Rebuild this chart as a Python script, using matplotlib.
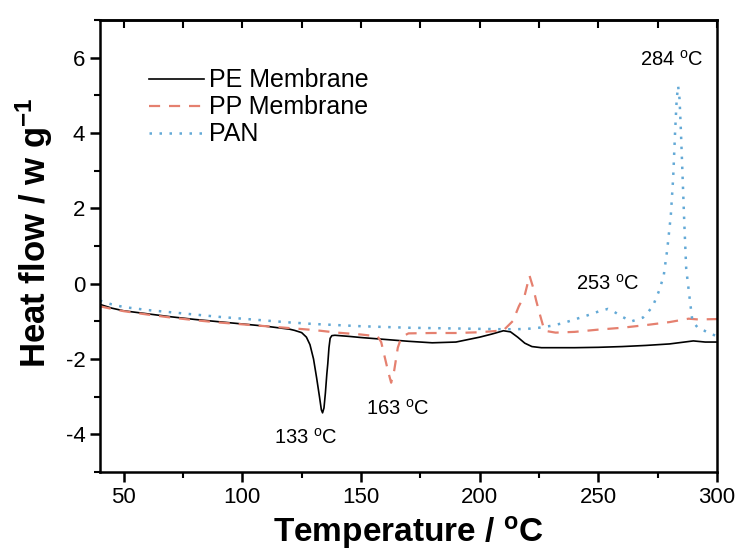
import matplotlib
matplotlib.use("Agg")
import matplotlib.pyplot as plt
from matplotlib.ticker import MultipleLocator

plt.rcParams["font.family"] = ["Liberation Sans", "DejaVu Sans"]
plt.rcParams["mathtext.default"] = "regular"
plt.rcParams["axes.unicode_minus"] = False

# DSC traces
pe_t = [40, 45, 50, 60, 70, 80, 90, 100, 110, 115, 120, 122, 125, 127, 128.5, 130, 131.3,
        132.5, 133.3, 133.8, 134.4, 135, 135.6, 136, 136.5, 137, 137.7, 139, 145, 150, 160, 170,
        180, 190, 200, 205, 210, 213, 216, 219, 222, 226, 230, 240, 250, 260, 270, 280, 285,
        290, 295, 300]
pe_hf = [-0.55, -0.65, -0.72, -0.80, -0.88, -0.95, -1.01, -1.07, -1.13, -1.17, -1.21, -1.24, -1.30,
         -1.42, -1.62, -2.0, -2.5, -3.0, -3.35, -3.43, -3.3, -2.9, -2.4, -2.13, -1.7, -1.45,
         -1.38, -1.37, -1.40, -1.43, -1.48, -1.53, -1.57, -1.55, -1.42, -1.34, -1.25, -1.28, -1.42,
         -1.58, -1.67, -1.70, -1.70, -1.70, -1.69, -1.67, -1.64, -1.60, -1.56, -1.52, -1.55, -1.55]

pp_t = [40, 45, 50, 60, 70, 80, 90, 100, 110, 120, 130, 140, 150, 157, 158.5, 160, 161.5, 162.7,
        164, 165.5, 167, 170, 180, 190, 200, 210, 214, 216.5, 219, 221, 222.5, 223.8, 225.5,
        227.3, 232, 240, 250, 260, 270, 280, 288, 292, 300]
pp_hf = [-0.60, -0.67, -0.73, -0.82, -0.90, -0.97, -1.03, -1.08, -1.13, -1.18, -1.23, -1.30, -1.35,
         -1.40, -1.55, -1.95, -2.35, -2.63, -2.3, -1.7, -1.42, -1.32, -1.31, -1.31, -1.29, -1.24,
         -0.99, -0.6, -0.3, 0.21, -0.1, -0.45, -0.85, -1.25, -1.30, -1.28, -1.22, -1.17, -1.10,
         -1.02, -0.93, -0.95, -0.94]

pan_t = [40, 45, 50, 60, 70, 80, 90, 100, 110, 120, 130, 140, 150, 160, 170, 180, 190, 200, 210,
         215, 220, 225, 230, 235, 240, 245, 250, 254, 256, 259.7, 264, 268.8, 271, 273, 275.5,
         277.5, 279, 280.5, 281.5, 282.3, 283, 283.6, 284.2, 284.8, 285.5, 286.2, 287, 288.4,
         289.6, 292, 294.7, 297, 300]
pan_hf = [-0.45, -0.55, -0.62, -0.70, -0.76, -0.82, -0.88, -0.93, -0.98, -1.03, -1.07, -1.10, -1.13,
          -1.15, -1.17, -1.18, -1.19, -1.20, -1.21, -1.21, -1.20, -1.17, -1.12, -1.05, -0.95, -0.85,
          -0.74, -0.67, -0.72, -0.87, -1.0, -0.9, -0.75, -0.59, -0.2, 0.2, 0.9, 1.8, 2.8, 4.0, 4.9,
          5.25, 4.9, 4.0, 2.8, 1.6, 0.4, -0.36, -0.99, -1.18, -1.25, -1.33, -1.39]

labels = ["PE Membrane", "PP Membrane", "PAN"]
peak_labels = ["133", "163", "253", "284"]
peak_pos = [(126.8, -4.1), (165.6, -3.33), (253.8, 0.0), (280.8, 5.95)]

fig = plt.figure(figsize=(7.4, 5.53), dpi=100)
ax = fig.add_axes([0.135, 0.1465, 0.834, 0.8173])

ax.plot(pe_t, pe_hf, color="black", lw=1.2, label=labels[0])
ax.plot(pp_t, pp_hf, color="#e5806f", lw=1.6, ls=(0, (5, 4)), label=labels[1])
ax.plot(pan_t, pan_hf, color="#63a9d6", lw=1.8, ls=(0, (1, 3)), label=labels[2])

for lab, (x, y) in zip(peak_labels, peak_pos):
    ax.text(x, y, lab + r" $^{o}$C", ha="center", va="center", fontsize=14.5)

ax.set_xlim(40, 300)
ax.set_ylim(-5, 7)
ax.xaxis.set_major_locator(MultipleLocator(50))
ax.xaxis.set_minor_locator(MultipleLocator(25))
ax.yaxis.set_major_locator(MultipleLocator(2))
ax.yaxis.set_minor_locator(MultipleLocator(1))
ax.tick_params(which="major", direction="out", length=7, width=1.8, labelsize=16)
ax.tick_params(which="minor", direction="out", length=4, width=1.5)
for s in ax.spines.values():
    s.set_linewidth(1.8)

top = ax.secondary_xaxis("top")
top.xaxis.set_major_locator(MultipleLocator(50))
top.xaxis.set_minor_locator(MultipleLocator(25))
top.tick_params(which="both", direction="in", length=6, width=1.5, labelsize=0, labeltop=False)
top.spines["top"].set_linewidth(1.8)

ax.set_xlabel(r"Temperature / $^{o}$C", fontsize=24, fontweight="bold")
ax.set_ylabel(r"Heat flow / w g$^{-1}$", fontsize=25, fontweight="bold")
ax.xaxis.set_label_coords(0.5, -0.092)
ax.yaxis.set_label_coords(-0.073, 0.53)

ax.legend(loc="upper left", bbox_to_anchor=(0.0626, 0.915), borderaxespad=0, frameon=False,
          fontsize=18, handlelength=2.2, handletextpad=0.2, labelspacing=0.12)

fig.savefig("out.png", dpi=100)
